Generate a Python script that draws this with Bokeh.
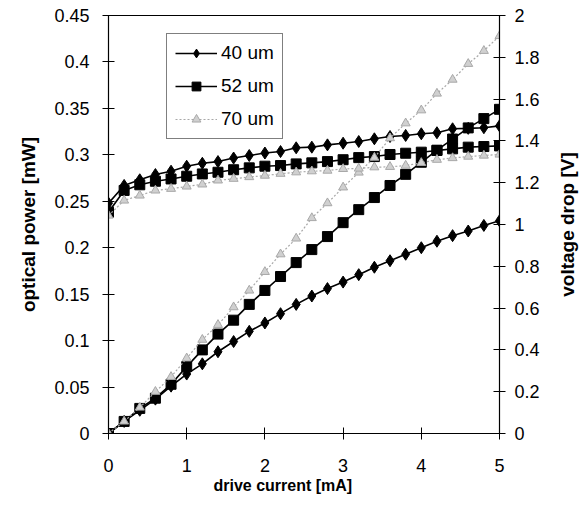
from bokeh.plotting import figure
from bokeh.layouts import row
from bokeh.models import Range1d, LinearAxis, FixedTicker, Legend, LegendItem, Title
from bokeh.embed import file_html
from bokeh.resources import INLINE

# drive current [mA]
current = [round(0.2 * i, 1) for i in range(26)]

# optical power [mW]
power_40 = [0, 0.013, 0.025, 0.037, 0.051, 0.064, 0.075, 0.088, 0.099, 0.110, 0.119, 0.129, 0.139,
            0.148, 0.156, 0.163, 0.171, 0.179, 0.186, 0.193, 0.200, 0.207, 0.213, 0.218, 0.224, 0.229]
power_52 = [0, 0.013, 0.027, 0.038, 0.053, 0.072, 0.090, 0.107, 0.122, 0.139, 0.154, 0.169, 0.184,
            0.198, 0.212, 0.227, 0.241, 0.254, 0.267, 0.279, 0.292, 0.305, 0.317, 0.329, 0.339, 0.349]
power_70 = [0, 0.013, 0.028, 0.045, 0.061, 0.081, 0.101, 0.117, 0.136, 0.154, 0.174, 0.193, 0.210,
            0.232, 0.248, 0.265, 0.281, 0.297, 0.318, 0.334, 0.348, 0.366, 0.381, 0.398, 0.412, 0.428]

# voltage drop [V]
volt_40 = [1.102, 1.187, 1.214, 1.239, 1.255, 1.279, 1.293, 1.301, 1.318, 1.330, 1.342, 1.349, 1.367,
           1.370, 1.381, 1.389, 1.397, 1.410, 1.421, 1.426, 1.434, 1.439, 1.458, 1.460, 1.463, 1.472]
volt_52 = [1.059, 1.163, 1.190, 1.207, 1.218, 1.231, 1.242, 1.250, 1.262, 1.271, 1.279, 1.282, 1.290,
           1.295, 1.301, 1.310, 1.320, 1.325, 1.335, 1.341, 1.346, 1.354, 1.362, 1.370, 1.373, 1.376]
volt_70 = [1.043, 1.115, 1.139, 1.163, 1.171, 1.182, 1.192, 1.211, 1.219, 1.227, 1.234, 1.243, 1.250,
           1.255, 1.258, 1.266, 1.268, 1.274, 1.276, 1.282, 1.295, 1.310, 1.318, 1.325, 1.330, 1.335]

series_names = ["40 um", "52 um", "70 um"]

x_ticks = [0, 1, 2, 3, 4, 5]
power_ticks = [0, 0.05, 0.1, 0.15, 0.2, 0.25, 0.3, 0.35, 0.4, 0.45]
power_tick_labels = ["0", "0.05", "0.1", "0.15", "0.2", "0.25", "0.3", "0.35", "0.4", "0.45"]
volt_ticks = [0, 0.2, 0.4, 0.6, 0.8, 1.0, 1.2, 1.4, 1.6, 1.8, 2.0]
volt_tick_labels = ["0", "0.2", "0.4", "0.6", "0.8", "1", "1.2", "1.4", "1.6", "1.8", "2"]

x_title = "drive current [mA]"
y_title = "optical power [mW]"
y2_title = "voltage drop [V]"

FONT = "Liberation Sans"
TICK_SIZE = "18px"
VTITLE_SIZE = "19px"

p = figure(width=553, height=518, output_backend="svg", toolbar_location=None,
           x_range=Range1d(0, 5), y_range=Range1d(0, 0.45),
           min_border_left=108, min_border_right=54, min_border_top=15, min_border_bottom=85)
p.extra_y_ranges = {"volt": Range1d(0, 2)}

p.xgrid.visible = False
p.ygrid.visible = False
p.outline_line_color = "black"
p.outline_line_width = 1
p.background_fill_color = "white"
p.border_fill_color = "white"

right_axis = LinearAxis(y_range_name="volt")
p.add_layout(right_axis, "right")

def style_axis(ax):
    ax.axis_line_color = "black"
    ax.axis_line_width = 1.2
    ax.major_tick_line_color = "black"
    ax.major_tick_in = 6
    ax.major_tick_out = 6
    ax.minor_tick_line_color = None
    ax.major_label_text_font = FONT
    ax.major_label_text_font_size = TICK_SIZE
    ax.major_label_text_color = "black"
    ax.axis_label_text_font = FONT
    ax.axis_label_text_font_size = VTITLE_SIZE
    ax.axis_label_text_font_style = "bold"
    ax.axis_label_text_color = "black"

xa = p.xaxis[0]
ya = p.yaxis[0]
for ax in (xa, ya, right_axis):
    style_axis(ax)

xa.ticker = FixedTicker(ticks=x_ticks)
xa.major_label_standoff = 19

ya.ticker = FixedTicker(ticks=power_ticks)
ya.major_label_overrides = {t: s for t, s in zip(power_ticks, power_tick_labels)}
ya.axis_label = y_title
ya.major_label_standoff = 13
ya.axis_label_standoff = 12

right_axis.ticker = FixedTicker(ticks=volt_ticks)
right_axis.major_label_overrides = {t: s for t, s in zip(volt_ticks, volt_tick_labels)}
right_axis.major_label_standoff = 9

x_title_obj = Title(text=x_title, align="left", offset=105, standoff=0,
                    text_font=FONT, text_font_size="16px", text_font_style="bold",
                    text_color="black")
p.add_layout(x_title_obj, "below")

styles = [
    dict(color="black", fill="black", marker="diamond", size=12, width=1.6, dash="solid"),
    dict(color="black", fill="black", marker="square", size=10, width=1.6, dash="solid"),
    dict(color="#a8a8a8", fill="#d0d0d0", marker="triangle", size=9, width=1.2, dash="2 2"),
]
powers = [power_40, power_52, power_70]
volts = [volt_40, volt_52, volt_70]

items = []
for name, pw, vt, st in zip(series_names, powers, volts, styles):
    l1 = p.line(current, pw, line_color=st["color"], line_width=st["width"], line_dash=st["dash"])
    s1 = p.scatter(current, pw, marker=st["marker"], size=st["size"], fill_color=st["fill"],
                   line_color=st["color"])
    p.line(current, vt, line_color=st["color"], line_width=st["width"], line_dash=st["dash"],
           y_range_name="volt")
    p.scatter(current, vt, marker=st["marker"], size=st["size"], fill_color=st["fill"],
              line_color=st["color"], y_range_name="volt")
    items.append(LegendItem(label=name, renderers=[l1, s1]))

legend = Legend(items=items, location=(58, 294))
legend.label_text_font = FONT
legend.label_text_font_size = "19px"
legend.label_text_color = "black"
legend.border_line_color = "black"
legend.border_line_width = 1
legend.background_fill_color = "white"
legend.background_fill_alpha = 1
legend.glyph_width = 42
legend.glyph_height = 22
legend.label_height = 22
legend.spacing = 11
legend.padding = 8
legend.margin = 0
legend.label_standoff = 4
p.add_layout(legend, "center")

# narrow companion panel carrying the right-hand axis title (reads bottom to top)
p2 = figure(width=31, height=518, output_backend="svg", toolbar_location=None,
            x_range=Range1d(0, 1), y_range=Range1d(0, 2),
            min_border_left=30, min_border_right=0, min_border_top=15, min_border_bottom=85)
p2.xgrid.visible = False
p2.ygrid.visible = False
p2.xaxis.visible = False
p2.outline_line_color = None
p2.background_fill_color = "white"
p2.border_fill_color = "white"
ax2 = p2.yaxis[0]
ax2.ticker = FixedTicker(ticks=[])
ax2.axis_line_color = None
ax2.major_tick_line_color = None
ax2.minor_tick_line_color = None
ax2.major_tick_out = 0
ax2.major_tick_in = 0
ax2.major_label_standoff = 0
ax2.axis_label = y2_title
ax2.axis_label_standoff = 7
ax2.axis_label_text_font = FONT
ax2.axis_label_text_font_size = VTITLE_SIZE
ax2.axis_label_text_font_style = "bold"
ax2.axis_label_text_color = "black"

layout = row(p, p2, spacing=0)
open("out.html", "w").write(file_html(layout, INLINE))
